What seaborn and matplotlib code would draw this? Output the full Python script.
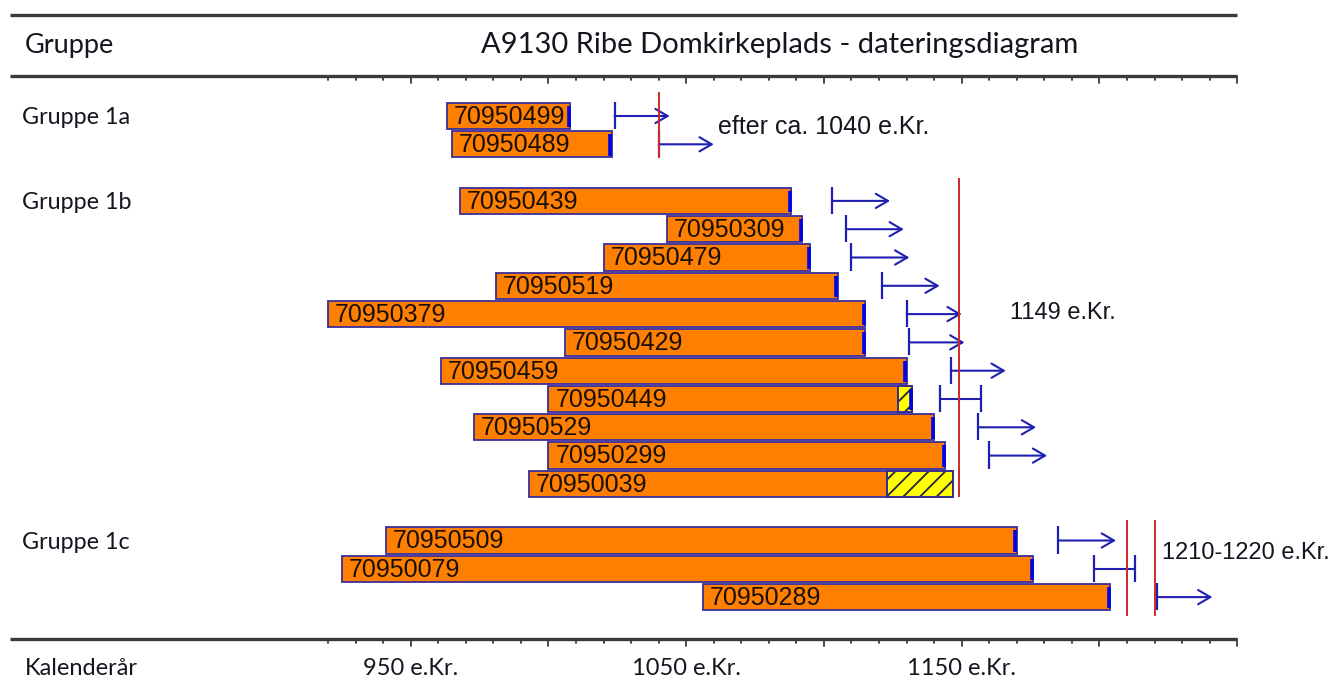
import matplotlib
matplotlib.use("Agg")
import matplotlib.pyplot as plt
import seaborn as sns
import pandas as pd
import numpy as np

# ---------------- data ----------------
group_names = ["Gruppe 1a", "Gruppe 1b", "Gruppe 1c"]
group_rows = [0, 3, 15]

samples = ["70950499", "70950489",
           "70950439", "70950309", "70950479", "70950519", "70950379", "70950429",
           "70950459", "70950449", "70950529", "70950299", "70950039",
           "70950509", "70950079", "70950289"]
rows = [0, 1,
        3, 4, 5, 6, 7, 8, 9, 10, 11, 12, 13,
        15, 16, 17]
first_year = [963, 965,
              968, 1043, 1020, 981, 920, 1006, 961, 1000, 973, 1000, 993,
              941, 925, 1056]
last_year = [1008, 1023,
             1088, 1092, 1095, 1105, 1115, 1115, 1130, 1132, 1140, 1144, 1147,
             1170, 1176, 1204]
sapwood_from = [None, None,
                None, None, None, None, None, None, None, 1127, None, None, 1123,
                None, None, None]
bark_edge = [True, True,
             True, True, True, True, True, True, True, True, True, True, False,
             True, True, True]
felling_kind = ["after", "after",
                "after", "after", "after", "after", "after", "after", "after", "range",
                "after", "after", "none",
                "after", "range", "after"]
felling_from = [1024, 1040,
                1103, 1108, 1110, 1121, 1130, 1131, 1146, 1142, 1156, 1160, None,
                1185, 1198, 1221]
felling_to = [1044, 1060,
              1124, 1129, 1131, 1142, 1150, 1151, 1166, 1157, 1177, 1181, None,
              1206, 1213, 1241]

dating_years = [1040, 1149, 1210, 1220]
dating_texts = ["efter ca. 1040 e.Kr.", "1149 e.Kr.", "1210-1220 e.Kr."]

axis_years = list(range(920, 1251, 10))
axis_label_years = [950, 1050, 1150]
axis_label_texts = ["950 e.Kr.", "1050 e.Kr.", "1150 e.Kr."]

title = "A9130 Ribe Domkirkeplads - dateringsdiagram"
header_left = "Gruppe"
footer_left = "Kalenderår"

# ---------------- layout helpers (pixel -> data) ----------------
PX_PER_YEAR = 2.755
X950 = 410.7
ROW0 = 116.0
ROW_H = 28.3


def px2x(p):
    return 950 + (p - X950) / PX_PER_YEAR


def px2y(p):
    return (p - ROW0) / ROW_H


sns.set_theme(style="white")
HEAD_FONT = ["Lato", "DejaVu Sans"]
BAR_FONT = ["Liberation Sans", "DejaVu Sans"]
plt.rcParams["font.family"] = HEAD_FONT
plt.rcParams["hatch.linewidth"] = 1.3

fig = plt.figure(figsize=(13.32, 6.92), dpi=100)
ax = fig.add_axes([0, 0, 1, 1])

BAR_FILL = "#ff8000"
BAR_EDGE = "#3a2e9a"
BLUE = "#1f1fb0"
RED = "#cc2a2a"
RULE = "#3a3a3a"
TXT = "#15151f"

df = pd.DataFrame({"row": rows, "start": first_year,
                   "span": np.array(last_year) - np.array(first_year)})
df = df.sort_values("row")

sns.barplot(data=df, x="span", y="row", orient="y", native_scale=True,
            left=df["start"].values, width=0.93, color=BAR_FILL, saturation=1,
            edgecolor=BAR_EDGE, linewidth=1.3, errorbar=None, ax=ax)

# sapwood (hatched yellow)
for r, s, e in zip(rows, sapwood_from, last_year):
    if s is not None:
        ax.barh(r, e - s, left=s, height=0.93, facecolor="#ffff00",
                edgecolor="#22224a", hatch="//", linewidth=1.2, zorder=3)
        ax.barh(r, e - s, left=s, height=0.93, facecolor="none",
                edgecolor=BAR_EDGE, linewidth=1.3, zorder=3.5)

# blue edge at last ring
for r, e, b in zip(rows, last_year, bark_edge):
    if b:
        ax.vlines(e - 0.5, r - 0.36, r + 0.4, color="#0000e6", lw=2.6, zorder=4)

# sample labels inside bars
for r, s, name in zip(rows, first_year, samples):
    ax.text(s + 2.5, r + 0.03, name, ha="left", va="center", fontsize=18,
            family=BAR_FONT, color="#1a1008", zorder=5)

# felling estimates
arrow_props = dict(arrowstyle="->,head_length=0.55,head_width=0.32", color=BLUE,
                   lw=1.5, shrinkA=0, shrinkB=0, mutation_scale=16)
for r, kind, f0, f1 in zip(rows, felling_kind, felling_from, felling_to):
    if kind == "after":
        ax.vlines(f0, r - 0.5, r + 0.46, color=BLUE, lw=1.6, zorder=4)
        ax.annotate("", xy=(f1, r), xytext=(f0, r), arrowprops=arrow_props, zorder=4)
    elif kind == "range":
        ax.vlines([f0, f1], r - 0.5, r + 0.46, color=BLUE, lw=1.6, zorder=4)
        ax.hlines(r, f0, f1, color=BLUE, lw=1.5, zorder=4)

# dating lines
ax.vlines(dating_years[0], px2y(92), px2y(158), color=RED, lw=1.4, zorder=6)
ax.vlines(dating_years[1], px2y(178), px2y(497), color=RED, lw=1.4, zorder=6)
ax.vlines(dating_years[2:], px2y(520), px2y(616), color=RED, lw=1.4, zorder=6)

ax.text(px2x(718), px2y(127), dating_texts[0], ha="left", va="center",
        fontsize=18, family=BAR_FONT, color=TXT)
ax.text(px2x(1010), px2y(313), dating_texts[1], ha="left", va="center",
        fontsize=17, family=BAR_FONT, color=TXT)
ax.text(px2x(1162), px2y(553), dating_texts[2], ha="left", va="center",
        fontsize=17, family=BAR_FONT, color=TXT)

# group labels
for g, r in zip(group_names, group_rows):
    ax.text(px2x(22), r + 0.07, g, ha="left", va="center", fontsize=16.8, color=TXT)

# rules and axis ticks
xl, xr = px2x(10), px2x(1237)
for yp in (15, 76, 639):
    ax.plot([xl, xr], [px2y(yp)] * 2, color=RULE, lw=2.4, solid_capstyle="butt")
for yp in (76, 639):
    for yr in axis_years:
        ln = 7 if yr % 50 == 0 else 4
        ax.plot([yr, yr], [px2y(yp), px2y(yp + ln)], color=RULE, lw=1.3)

ax.text(px2x(25), px2y(45), header_left, ha="left", va="center", fontsize=19.5, color=TXT)
ax.text(px2x(780), px2y(45), title, ha="center", va="center", fontsize=21, color=TXT)
ax.text(px2x(25), px2y(668), footer_left, ha="left", va="center", fontsize=17, color=TXT)
for yr, t in zip(axis_label_years, axis_label_texts):
    ax.text(yr, px2y(668), t, ha="center", va="center", fontsize=17, color=TXT)

ax.set_xlim(px2x(0), px2x(1332))
ax.set_ylim(px2y(692), px2y(0))
ax.set_axis_off()

fig.savefig("out.png", dpi=100, facecolor="white")
